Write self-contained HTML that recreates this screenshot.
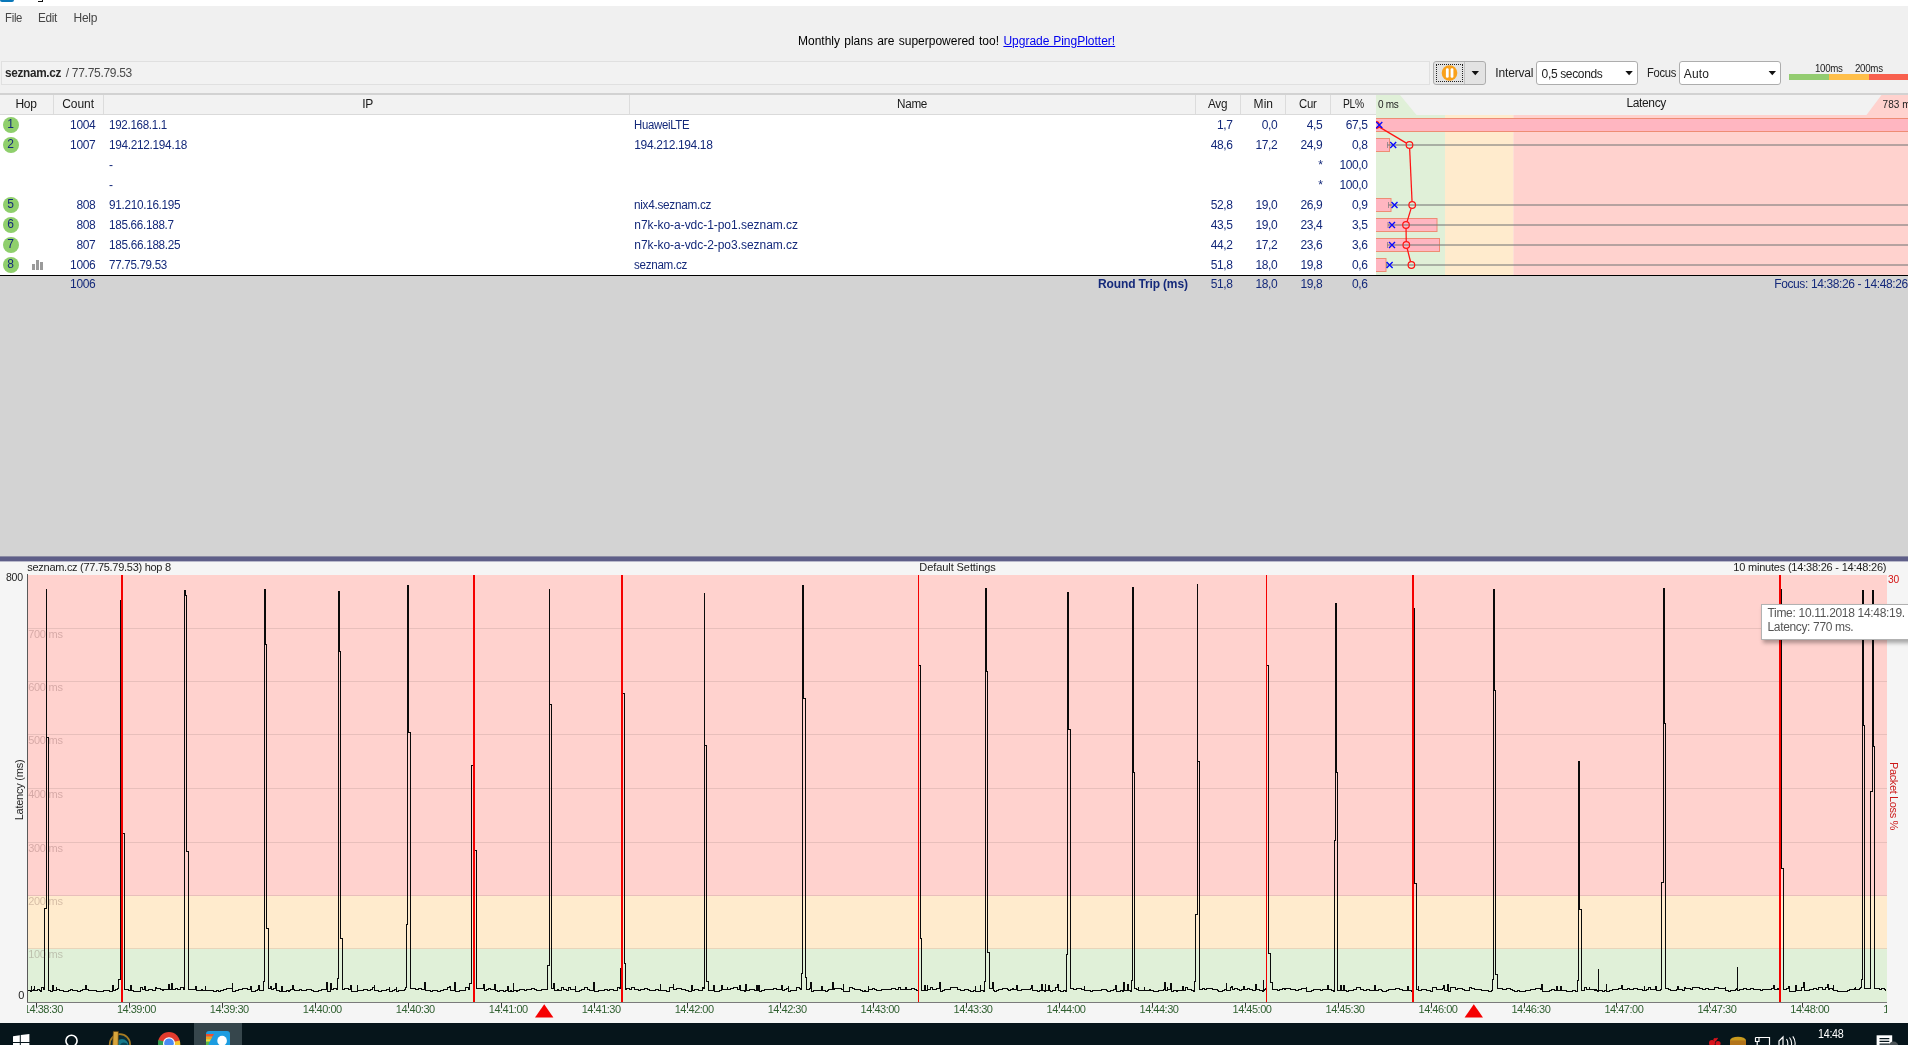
<!DOCTYPE html>
<html><head><meta charset="utf-8"><title>PingPlotter</title>
<style>
*{box-sizing:border-box;margin:0;padding:0}
html,body{width:1908px;height:1045px;overflow:hidden;background:#f0f0f0;}
body{position:relative;font-family:"Liberation Sans",sans-serif;font-size:12px;color:#1a1a1a;}
.a{position:absolute;white-space:nowrap;line-height:14px;}
#root{position:absolute;left:0;top:0;width:1908px;height:1045px;overflow:hidden;will-change:transform;}
.nv{color:#14297a;}
.r{text-align:right;}
.c{text-align:center;}
.hd{color:#1a1a1a;}
svg{position:absolute;left:0;top:0;overflow:visible}
</style></head>
<body>
<div id="root">
<div class="a" style="left:0px;top:0px;width:1908px;height:6px;background:#ffffff;"></div>
<div class="a" style="left:0px;top:0px;width:14px;height:2px;background:#0a78b9;border-radius:0 0 3px 3px;"></div>
<div class="a" style="left:38px;top:1px;width:5px;height:1px;background:#111;"></div>
<div class="a" style="left:42px;top:0px;width:1.3px;height:1px;background:#111;"></div>
<div class="a" style="left:4.60px;top:11px;font-size:12px;letter-spacing:-0.300px;color:#464646;transform:scaleX(0.9446);transform-origin:0 50%;">File</div>
<div class="a" style="left:37.60px;top:11px;font-size:12px;letter-spacing:-0.300px;color:#464646;transform:scaleX(0.9798);transform-origin:0 50%;">Edit</div>
<div class="a" style="left:73.60px;top:11px;font-size:12px;letter-spacing:-0.320px;color:#464646;">Help</div>
<div class="a" style="left:798.00px;top:34px;font-size:12px;word-spacing:0.885px;color:#000;">Monthly plans are superpowered too!</div>
<div class="a" style="left:1003.40px;top:34px;font-size:12px;word-spacing:0.380px;color:#0000ee;text-decoration:underline;">Upgrade PingPlotter!</div>
<div class="a" style="left:1px;top:61px;width:1429px;height:24px;border:1px solid #e0e0e0;background:#f2f2f2;"></div>
<div class="a" style="left:5.30px;top:66px;font-size:12px;letter-spacing:-0.300px;color:#262626;font-weight:bold;transform:scaleX(0.9799);transform-origin:0 50%;">seznam.cz</div>
<div class="a" style="left:65.80px;top:66px;font-size:12px;letter-spacing:-0.298px;color:#4a4a4a;">/ 77.75.79.53</div>
<div class="a" style="left:1433px;top:61px;width:53px;height:24px;border:1px solid #adadad;border-radius:3px;background:#e3e3e3;"></div>
<div class="a" style="left:1464px;top:62px;width:1px;height:22px;background:#c4c4c4;"></div>
<div class="a" style="left:1436px;top:64px;width:27px;height:18px;border:1px dotted #222;"></div>
<div class="a" style="left:1495.30px;top:66px;font-size:12px;letter-spacing:-0.166px;color:#222;">Interval</div>
<div class="a" style="left:1536px;top:61px;width:102px;height:24px;border:1px solid #adadad;border-radius:3px;background:#fff;"></div>
<div class="a" style="left:1541.60px;top:67px;font-size:12px;letter-spacing:-0.354px;color:#222;">0,5 seconds</div>
<div class="a" style="left:1646.60px;top:66px;font-size:12px;letter-spacing:-0.300px;color:#222;transform:scaleX(0.9333);transform-origin:0 50%;">Focus</div>
<div class="a" style="left:1679px;top:61px;width:102px;height:24px;border:1px solid #adadad;border-radius:3px;background:#fff;"></div>
<div class="a" style="left:1683.80px;top:67px;font-size:12px;letter-spacing:0.113px;color:#222;">Auto</div>
<svg width="1908" height="120"><circle cx="1449.5" cy="73" r="7.8" fill="#f9a11b"/><rect x="1445.9" y="68.2" width="2.8" height="9.5" rx="1.2" fill="#fff"/><rect x="1450.6" y="68.2" width="2.8" height="9.5" rx="1.2" fill="#fff"/><path d="M1471.6 71 L1479 71 L1475.3 75.3 Z" fill="#111"/><path d="M1625.4 71 L1632.8 71 L1629.1 75.3 Z" fill="#111"/><path d="M1768.6 71 L1776 71 L1772.3 75.3 Z" fill="#111"/></svg>
<div class="a" style="left:1789px;top:74px;width:40px;height:6px;background:#93cc70;"></div>
<div class="a" style="left:1829px;top:74px;width:40px;height:6px;background:#ffbf4a;"></div>
<div class="a" style="left:1869px;top:74px;width:39px;height:6px;background:#f8604e;"></div>
<div class="a" style="left:1815.40px;top:61.5px;font-size:10px;letter-spacing:-0.300px;color:#222;transform:scaleX(0.9687);transform-origin:0 50%;">100ms</div>
<div class="a" style="left:1855.20px;top:61.5px;font-size:10px;letter-spacing:-0.300px;color:#222;transform:scaleX(0.9722);transform-origin:0 50%;">200ms</div>
<div class="a" style="left:0px;top:93px;width:1908px;height:2px;background:#d2d2d2;"></div>
<div class="a" style="left:0px;top:95px;width:1376px;height:19px;background:#f2f2f2;"></div>
<div class="a" style="left:0px;top:114px;width:1376px;height:1px;background:#dadada;"></div>
<div class="a" style="left:53px;top:95px;width:1px;height:19px;background:#dcdcdc;"></div>
<div class="a" style="left:103px;top:95px;width:1px;height:19px;background:#dcdcdc;"></div>
<div class="a" style="left:629px;top:95px;width:1px;height:19px;background:#dcdcdc;"></div>
<div class="a" style="left:1195px;top:95px;width:1px;height:19px;background:#dcdcdc;"></div>
<div class="a" style="left:1240px;top:95px;width:1px;height:19px;background:#dcdcdc;"></div>
<div class="a" style="left:1285px;top:95px;width:1px;height:19px;background:#dcdcdc;"></div>
<div class="a" style="left:1330px;top:95px;width:1px;height:19px;background:#dcdcdc;"></div>
<div class="a" style="left:15.50px;top:97px;font-size:12px;letter-spacing:-0.310px;color:#1a1a1a;">Hop</div>
<div class="a" style="left:62.20px;top:97px;font-size:12px;letter-spacing:-0.060px;color:#1a1a1a;">Count</div>
<div class="a" style="left:362.30px;top:97px;font-size:12px;letter-spacing:-0.300px;color:#1a1a1a;">IP</div>
<div class="a" style="left:896.80px;top:97px;font-size:12px;letter-spacing:-0.300px;color:#1a1a1a;transform:scaleX(0.9762);transform-origin:0 50%;">Name</div>
<div class="a" style="left:1208.30px;top:97px;font-size:12px;letter-spacing:-0.300px;color:#1a1a1a;transform:scaleX(0.9768);transform-origin:0 50%;">Avg</div>
<div class="a" style="left:1253.60px;top:97px;font-size:12px;letter-spacing:0.040px;color:#1a1a1a;">Min</div>
<div class="a" style="left:1299.30px;top:97px;font-size:12px;letter-spacing:-0.300px;color:#1a1a1a;transform:scaleX(0.9455);transform-origin:0 50%;">Cur</div>
<div class="a" style="left:1342.60px;top:97px;font-size:12px;letter-spacing:-0.300px;color:#1a1a1a;transform:scaleX(0.8576);transform-origin:0 50%;">PL%</div>
<div class="a" style="left:0px;top:115px;width:1376px;height:160px;background:#ffffff;"></div>
<div class="a" style="left:3px;top:117px;width:16px;height:16px;border-radius:8px;background:#8fcf6c;"></div>
<div class="a" style="left:7.37px;top:117px;font-size:12px;letter-spacing:0.000px;color:#14297a;">1</div>
<div class="a" style="left:70.08px;top:118px;font-size:12px;letter-spacing:-0.360px;color:#14297a;">1004</div>
<div class="a" style="left:108.50px;top:118px;font-size:12px;letter-spacing:-0.300px;color:#14297a;transform:scaleX(0.9649);transform-origin:0 50%;">192.168.1.1</div>
<div class="a" style="left:634.30px;top:118px;font-size:12px;letter-spacing:-0.300px;color:#14297a;transform:scaleX(0.9465);transform-origin:0 50%;">HuaweiLTE</div>
<div class="a" style="left:1216.94px;top:118px;font-size:12px;letter-spacing:-0.360px;color:#14297a;">1,7</div>
<div class="a" style="left:1261.74px;top:118px;font-size:12px;letter-spacing:-0.360px;color:#14297a;">0,0</div>
<div class="a" style="left:1306.74px;top:118px;font-size:12px;letter-spacing:-0.360px;color:#14297a;">4,5</div>
<div class="a" style="left:1345.74px;top:118px;font-size:12px;letter-spacing:-0.360px;color:#14297a;">67,5</div>
<div class="a" style="left:3px;top:137px;width:16px;height:16px;border-radius:8px;background:#8fcf6c;"></div>
<div class="a" style="left:7.37px;top:137px;font-size:12px;letter-spacing:0.000px;color:#14297a;">2</div>
<div class="a" style="left:70.08px;top:138px;font-size:12px;letter-spacing:-0.360px;color:#14297a;">1007</div>
<div class="a" style="left:108.50px;top:138px;font-size:12px;letter-spacing:-0.300px;color:#14297a;transform:scaleX(0.9836);transform-origin:0 50%;">194.212.194.18</div>
<div class="a" style="left:634.30px;top:138px;font-size:12px;letter-spacing:-0.377px;color:#14297a;">194.212.194.18</div>
<div class="a" style="left:1210.64px;top:138px;font-size:12px;letter-spacing:-0.360px;color:#14297a;">48,6</div>
<div class="a" style="left:1255.44px;top:138px;font-size:12px;letter-spacing:-0.360px;color:#14297a;">17,2</div>
<div class="a" style="left:1300.44px;top:138px;font-size:12px;letter-spacing:-0.360px;color:#14297a;">24,9</div>
<div class="a" style="left:1352.04px;top:138px;font-size:12px;letter-spacing:-0.360px;color:#14297a;">0,8</div>
<div class="a" style="left:109.00px;top:158px;font-size:12px;letter-spacing:-0.820px;color:#14297a;">-</div>
<div class="a" style="left:1318.22px;top:157.7px;font-size:12px;letter-spacing:0.000px;color:#14297a;">*</div>
<div class="a" style="left:1339.38px;top:158px;font-size:12px;letter-spacing:-0.360px;color:#14297a;">100,0</div>
<div class="a" style="left:109.00px;top:178px;font-size:12px;letter-spacing:-0.820px;color:#14297a;">-</div>
<div class="a" style="left:1318.22px;top:177.7px;font-size:12px;letter-spacing:0.000px;color:#14297a;">*</div>
<div class="a" style="left:1339.38px;top:178px;font-size:12px;letter-spacing:-0.360px;color:#14297a;">100,0</div>
<div class="a" style="left:3px;top:197px;width:16px;height:16px;border-radius:8px;background:#8fcf6c;"></div>
<div class="a" style="left:7.37px;top:197px;font-size:12px;letter-spacing:0.000px;color:#14297a;">5</div>
<div class="a" style="left:76.38px;top:198px;font-size:12px;letter-spacing:-0.360px;color:#14297a;">808</div>
<div class="a" style="left:108.50px;top:198px;font-size:12px;letter-spacing:-0.300px;color:#14297a;transform:scaleX(0.9789);transform-origin:0 50%;">91.210.16.195</div>
<div class="a" style="left:634.30px;top:198px;font-size:12px;letter-spacing:-0.300px;color:#14297a;transform:scaleX(0.9825);transform-origin:0 50%;">nix4.seznam.cz</div>
<div class="a" style="left:1210.64px;top:198px;font-size:12px;letter-spacing:-0.360px;color:#14297a;">52,8</div>
<div class="a" style="left:1255.44px;top:198px;font-size:12px;letter-spacing:-0.360px;color:#14297a;">19,0</div>
<div class="a" style="left:1300.44px;top:198px;font-size:12px;letter-spacing:-0.360px;color:#14297a;">26,9</div>
<div class="a" style="left:1352.04px;top:198px;font-size:12px;letter-spacing:-0.360px;color:#14297a;">0,9</div>
<div class="a" style="left:3px;top:217px;width:16px;height:16px;border-radius:8px;background:#8fcf6c;"></div>
<div class="a" style="left:7.37px;top:217px;font-size:12px;letter-spacing:0.000px;color:#14297a;">6</div>
<div class="a" style="left:76.38px;top:218px;font-size:12px;letter-spacing:-0.360px;color:#14297a;">808</div>
<div class="a" style="left:108.50px;top:218px;font-size:12px;letter-spacing:-0.300px;color:#14297a;transform:scaleX(0.9748);transform-origin:0 50%;">185.66.188.7</div>
<div class="a" style="left:634.30px;top:218px;font-size:12px;letter-spacing:-0.039px;color:#14297a;">n7k-ko-a-vdc-1-po1.seznam.cz</div>
<div class="a" style="left:1210.64px;top:218px;font-size:12px;letter-spacing:-0.360px;color:#14297a;">43,5</div>
<div class="a" style="left:1255.44px;top:218px;font-size:12px;letter-spacing:-0.360px;color:#14297a;">19,0</div>
<div class="a" style="left:1300.44px;top:218px;font-size:12px;letter-spacing:-0.360px;color:#14297a;">23,4</div>
<div class="a" style="left:1352.04px;top:218px;font-size:12px;letter-spacing:-0.360px;color:#14297a;">3,5</div>
<div class="a" style="left:3px;top:237px;width:16px;height:16px;border-radius:8px;background:#8fcf6c;"></div>
<div class="a" style="left:7.37px;top:237px;font-size:12px;letter-spacing:0.000px;color:#14297a;">7</div>
<div class="a" style="left:76.38px;top:238px;font-size:12px;letter-spacing:-0.360px;color:#14297a;">807</div>
<div class="a" style="left:108.50px;top:238px;font-size:12px;letter-spacing:-0.300px;color:#14297a;transform:scaleX(0.9789);transform-origin:0 50%;">185.66.188.25</div>
<div class="a" style="left:634.30px;top:238px;font-size:12px;letter-spacing:-0.039px;color:#14297a;">n7k-ko-a-vdc-2-po3.seznam.cz</div>
<div class="a" style="left:1210.64px;top:238px;font-size:12px;letter-spacing:-0.360px;color:#14297a;">44,2</div>
<div class="a" style="left:1255.44px;top:238px;font-size:12px;letter-spacing:-0.360px;color:#14297a;">17,2</div>
<div class="a" style="left:1300.44px;top:238px;font-size:12px;letter-spacing:-0.360px;color:#14297a;">23,6</div>
<div class="a" style="left:1352.04px;top:238px;font-size:12px;letter-spacing:-0.360px;color:#14297a;">3,6</div>
<div class="a" style="left:3px;top:257px;width:16px;height:16px;border-radius:8px;background:#8fcf6c;"></div>
<div class="a" style="left:7.37px;top:257px;font-size:12px;letter-spacing:0.000px;color:#14297a;">8</div>
<div class="a" style="left:70.08px;top:258px;font-size:12px;letter-spacing:-0.360px;color:#14297a;">1006</div>
<div class="a" style="left:108.50px;top:258px;font-size:12px;letter-spacing:-0.300px;color:#14297a;transform:scaleX(0.9649);transform-origin:0 50%;">77.75.79.53</div>
<div class="a" style="left:634.30px;top:258px;font-size:12px;letter-spacing:-0.300px;color:#14297a;transform:scaleX(0.9698);transform-origin:0 50%;">seznam.cz</div>
<div class="a" style="left:1210.64px;top:258px;font-size:12px;letter-spacing:-0.360px;color:#14297a;">51,8</div>
<div class="a" style="left:1255.44px;top:258px;font-size:12px;letter-spacing:-0.360px;color:#14297a;">18,0</div>
<div class="a" style="left:1300.44px;top:258px;font-size:12px;letter-spacing:-0.360px;color:#14297a;">19,8</div>
<div class="a" style="left:1352.04px;top:258px;font-size:12px;letter-spacing:-0.360px;color:#14297a;">0,6</div>
<svg width="60" height="280"><rect x="32" y="264" width="3" height="6" fill="#9a9a9a"/><rect x="36" y="260" width="3" height="10" fill="#9a9a9a"/><rect x="40" y="262" width="3" height="8" fill="#9a9a9a"/></svg>
<div class="a" style="left:0px;top:275px;width:1908px;height:1px;background:#000000;"></div>
<div class="a" style="left:0px;top:276px;width:1908px;height:281px;background:#d3d3d3;"></div>
<div class="a" style="left:70.08px;top:277px;font-size:12px;letter-spacing:-0.360px;color:#14297a;">1006</div>
<div class="a" style="left:1098.10px;top:277px;font-size:12px;letter-spacing:-0.156px;color:#14297a;font-weight:bold;">Round Trip (ms)</div>
<div class="a" style="left:1210.64px;top:277px;font-size:12px;letter-spacing:-0.360px;color:#14297a;">51,8</div>
<div class="a" style="left:1255.44px;top:277px;font-size:12px;letter-spacing:-0.360px;color:#14297a;">18,0</div>
<div class="a" style="left:1300.44px;top:277px;font-size:12px;letter-spacing:-0.360px;color:#14297a;">19,8</div>
<div class="a" style="left:1352.04px;top:277px;font-size:12px;letter-spacing:-0.360px;color:#14297a;">0,6</div>
<div class="a" style="left:1774.20px;top:277px;font-size:12px;letter-spacing:-0.378px;color:#14297a;">Focus: 14:38:26 - 14:48:26</div>
<svg width="1908" height="280"><rect x="1376" y="95" width="532" height="20" fill="#f2f2f2"/><path d="M1376 95 L1400 95 L1416.5 115 L1376 115 Z" fill="#e0f0d8"/><path d="M1881.5 95 L1908 95 L1908 115 L1866.5 115 Z" fill="#ffd2ce"/><rect x="1376" y="115" width="69" height="160" fill="#e0f0d8"/><rect x="1445" y="115" width="68.5" height="160" fill="#ffebcd"/><rect x="1513.5" y="115" width="394.5" height="160" fill="#ffd2ce"/><rect x="1375" y="118.5" width="534.5" height="13" fill="#ffb6c1" stroke="#ee8c74" stroke-width="1"/><rect x="1375" y="138.5" width="14.5" height="13" fill="#ffb6c1" stroke="#ee8c74" stroke-width="1"/><rect x="1375" y="198.5" width="16.0" height="13" fill="#ffb6c1" stroke="#ee8c74" stroke-width="1"/><rect x="1375" y="218.5" width="62.0" height="13" fill="#ffb6c1" stroke="#ee8c74" stroke-width="1"/><rect x="1375" y="238.5" width="64.5" height="13" fill="#ffb6c1" stroke="#ee8c74" stroke-width="1"/><rect x="1375" y="258.5" width="11.0" height="13" fill="#ffb6c1" stroke="#ee8c74" stroke-width="1"/><rect x="1373" y="115" width="3" height="159" fill="#fff"/><rect x="1387.5" y="144" width="520.5" height="2" fill="#7a7a7a" fill-opacity="0.55"/><rect x="1387.0" y="142" width="1" height="6" fill="#7a7a7a" fill-opacity="0.7"/><rect x="1388.5" y="204" width="519.5" height="2" fill="#7a7a7a" fill-opacity="0.55"/><rect x="1388.0" y="202" width="1" height="6" fill="#7a7a7a" fill-opacity="0.7"/><rect x="1388" y="224" width="520" height="2" fill="#7a7a7a" fill-opacity="0.55"/><rect x="1387.5" y="222" width="1" height="6" fill="#7a7a7a" fill-opacity="0.7"/><rect x="1387.5" y="244" width="520.5" height="2" fill="#7a7a7a" fill-opacity="0.55"/><rect x="1387.0" y="242" width="1" height="6" fill="#7a7a7a" fill-opacity="0.7"/><rect x="1386.5" y="264" width="521.5" height="2" fill="#7a7a7a" fill-opacity="0.55"/><rect x="1386.0" y="262" width="1" height="6" fill="#7a7a7a" fill-opacity="0.7"/><line x1="1379.09" y1="126.85" x2="1406.41" y2="143.15" stroke="#ff1414" stroke-width="1.25"/><line x1="1409.66" y1="148.60" x2="1412.04" y2="201.40" stroke="#ff1414" stroke-width="1.25"/><line x1="1411.13" y1="208.44" x2="1407.07" y2="221.56" stroke="#ff1414" stroke-width="1.25"/><line x1="1406.05" y1="228.60" x2="1406.25" y2="241.40" stroke="#ff1414" stroke-width="1.25"/><line x1="1407.19" y1="248.49" x2="1410.51" y2="261.51" stroke="#ff1414" stroke-width="1.25"/><circle cx="1376" cy="125" r="3.3" fill="none" stroke="#ff1414" stroke-width="1.2"/><circle cx="1409.5" cy="145" r="3.3" fill="none" stroke="#ff1414" stroke-width="1.2"/><circle cx="1412.2" cy="205" r="3.3" fill="none" stroke="#ff1414" stroke-width="1.2"/><circle cx="1406" cy="225" r="3.3" fill="none" stroke="#ff1414" stroke-width="1.2"/><circle cx="1406.3" cy="245" r="3.3" fill="none" stroke="#ff1414" stroke-width="1.2"/><circle cx="1411.4" cy="265" r="3.3" fill="none" stroke="#ff1414" stroke-width="1.2"/><rect x="1370" y="115" width="6" height="159" fill="#fff"/><path d="M1376.3 122.1 L1382.3 127.9 M1376.3 127.9 L1382.3 122.1" stroke="#0808ff" stroke-width="1.35" fill="none"/><path d="M1390.2 142.1 L1396.2 147.9 M1390.2 147.9 L1396.2 142.1" stroke="#0808ff" stroke-width="1.35" fill="none"/><path d="M1391.5 202.1 L1397.5 207.9 M1391.5 207.9 L1397.5 202.1" stroke="#0808ff" stroke-width="1.35" fill="none"/><path d="M1389 222.1 L1395 227.9 M1389 227.9 L1395 222.1" stroke="#0808ff" stroke-width="1.35" fill="none"/><path d="M1389 242.1 L1395 247.9 M1389 247.9 L1395 242.1" stroke="#0808ff" stroke-width="1.35" fill="none"/><path d="M1386.6 262.1 L1392.6 267.9 M1386.6 267.9 L1392.6 262.1" stroke="#0808ff" stroke-width="1.35" fill="none"/></svg>
<div class="a" style="left:1377.90px;top:98px;font-size:10px;letter-spacing:-0.250px;color:#222;">0 ms</div>
<div class="a" style="left:1882.60px;top:98px;font-size:10px;letter-spacing:0.020px;color:#222;">783 ms</div>
<div class="a" style="left:1626.50px;top:95.5px;font-size:12px;letter-spacing:-0.377px;color:#1a1a1a;">Latency</div>
<div class="a" style="left:0px;top:561px;width:1908px;height:462px;background:#f5f5f5;"></div>
<div class="a" style="left:0px;top:556px;width:1908px;height:1px;background:#8c8ca4;"></div>
<div class="a" style="left:0px;top:557px;width:1908px;height:4px;background:#5e5e88;"></div>
<div class="a" style="left:0px;top:561px;width:1908px;height:1px;background:#b9b9cb;"></div>
<svg width="1908" height="1045"><rect x="27" y="575" width="1860" height="321" fill="#ffd2ce"/><rect x="27" y="896" width="1860" height="53" fill="#ffebcd"/><rect x="27" y="949" width="1860" height="53" fill="#e0f0d8"/><rect x="27" y="628" width="1860" height="1" fill="#000" fill-opacity="0.09"/><rect x="27" y="681" width="1860" height="1" fill="#000" fill-opacity="0.09"/><rect x="27" y="734" width="1860" height="1" fill="#000" fill-opacity="0.09"/><rect x="27" y="788" width="1860" height="1" fill="#000" fill-opacity="0.09"/><rect x="27" y="842" width="1860" height="1" fill="#000" fill-opacity="0.09"/><rect x="27" y="895" width="1860" height="1" fill="#000" fill-opacity="0.09"/><rect x="27" y="948" width="1860" height="1" fill="#000" fill-opacity="0.09"/><path d="M27.5 990.5 L30.5 990.5 L30.5 991.5 L31.5 991.5 L31.5 985.5 L31.5 985.5 L31.5 990.5 L32.5 990.5 L33.5 990.5 L33.5 989.5 L34.5 989.5 L34.5 985.5 L34.5 985.5 L34.5 990.5 L35.5 990.5 L37.5 990.5 L37.5 989.5 L39.5 989.5 L39.5 990.5 L40.5 990.5 L40.5 991.5 L41.5 991.5 L41.5 987.5 L43.5 987.5 L43.5 989.5 L44.5 989.5 L44.5 908.5 L46.5 908.5 L46.5 588.5 L46.5 588.5 L46.5 737.5 L48.5 737.5 L48.5 990.5 L50.5 990.5 L50.5 991.5 L52.5 991.5 L52.5 985.5 L53.5 985.5 L53.5 990.5 L53.5 990.5 L56.5 990.5 L56.5 986.5 L56.5 986.5 L56.5 989.5 L57.5 989.5 L59.5 989.5 L59.5 990.5 L63.5 990.5 L63.5 991.5 L68.5 991.5 L68.5 990.5 L70.5 990.5 L70.5 989.5 L72.5 989.5 L72.5 990.5 L77.5 990.5 L77.5 991.5 L80.5 991.5 L80.5 990.5 L82.5 990.5 L82.5 989.5 L85.5 989.5 L85.5 985.5 L86.5 985.5 L86.5 989.5 L86.5 989.5 L88.5 989.5 L88.5 990.5 L91.5 990.5 L91.5 990.5 L96.5 990.5 L96.5 991.5 L98.5 991.5 L98.5 991.5 L103.5 991.5 L103.5 990.5 L104.5 990.5 L104.5 990.5 L109.5 990.5 L109.5 991.5 L112.5 991.5 L112.5 985.5 L113.5 985.5 L113.5 990.5 L113.5 990.5 L115.5 990.5 L115.5 989.5 L117.5 989.5 L117.5 988.5 L118.5 988.5 L118.5 979.5 L120.5 979.5 L120.5 600.5 L122.5 600.5 L122.5 833.5 L124.5 833.5 L124.5 989.5 L128.5 989.5 L128.5 990.5 L130.5 990.5 L130.5 985.5 L131.5 985.5 L131.5 990.5 L131.5 990.5 L133.5 990.5 L133.5 991.5 L136.5 991.5 L136.5 991.5 L140.5 991.5 L140.5 987.5 L142.5 987.5 L142.5 989.5 L144.5 989.5 L144.5 986.5 L145.5 986.5 L145.5 990.5 L145.5 990.5 L148.5 990.5 L148.5 989.5 L152.5 989.5 L152.5 990.5 L155.5 990.5 L155.5 987.5 L156.5 987.5 L156.5 988.5 L160.5 988.5 L160.5 989.5 L162.5 989.5 L162.5 990.5 L163.5 990.5 L163.5 989.5 L168.5 989.5 L168.5 984.5 L169.5 984.5 L169.5 989.5 L169.5 989.5 L171.5 989.5 L171.5 983.5 L172.5 983.5 L172.5 989.5 L172.5 989.5 L175.5 989.5 L175.5 988.5 L177.5 988.5 L177.5 989.5 L180.5 989.5 L180.5 987.5 L183.5 987.5 L183.5 989.5 L184.5 989.5 L184.5 590.5 L185.5 590.5 L185.5 595.5 L186.5 595.5 L186.5 851.5 L188.5 851.5 L188.5 989.5 L193.5 989.5 L193.5 989.5 L195.5 989.5 L195.5 986.5 L196.5 986.5 L196.5 990.5 L196.5 990.5 L201.5 990.5 L201.5 989.5 L202.5 989.5 L202.5 990.5 L205.5 990.5 L205.5 985.5 L205.5 985.5 L205.5 990.5 L206.5 990.5 L208.5 990.5 L208.5 990.5 L211.5 990.5 L211.5 990.5 L213.5 990.5 L213.5 991.5 L216.5 991.5 L216.5 990.5 L218.5 990.5 L218.5 991.5 L220.5 991.5 L220.5 990.5 L223.5 990.5 L223.5 989.5 L226.5 989.5 L226.5 988.5 L229.5 988.5 L229.5 988.5 L232.5 988.5 L232.5 982.5 L232.5 982.5 L232.5 991.5 L233.5 991.5 L235.5 991.5 L235.5 990.5 L236.5 990.5 L236.5 990.5 L238.5 990.5 L238.5 989.5 L242.5 989.5 L242.5 988.5 L247.5 988.5 L247.5 989.5 L250.5 989.5 L250.5 986.5 L251.5 986.5 L251.5 991.5 L251.5 991.5 L255.5 991.5 L255.5 990.5 L257.5 990.5 L257.5 989.5 L258.5 989.5 L258.5 985.5 L259.5 985.5 L259.5 990.5 L259.5 990.5 L262.5 990.5 L262.5 990.5 L263.5 990.5 L263.5 981.5 L264.5 981.5 L264.5 589.5 L265.5 589.5 L265.5 644.5 L266.5 644.5 L266.5 928.5 L268.5 928.5 L268.5 988.5 L270.5 988.5 L270.5 986.5 L271.5 986.5 L271.5 989.5 L271.5 989.5 L273.5 989.5 L273.5 988.5 L275.5 988.5 L275.5 983.5 L276.5 983.5 L276.5 990.5 L276.5 990.5 L279.5 990.5 L279.5 991.5 L281.5 991.5 L281.5 986.5 L282.5 986.5 L282.5 991.5 L282.5 991.5 L286.5 991.5 L286.5 990.5 L288.5 990.5 L288.5 991.5 L289.5 991.5 L289.5 990.5 L290.5 990.5 L290.5 989.5 L292.5 989.5 L292.5 985.5 L293.5 985.5 L293.5 989.5 L293.5 989.5 L294.5 989.5 L294.5 990.5 L299.5 990.5 L299.5 989.5 L300.5 989.5 L300.5 989.5 L301.5 989.5 L301.5 990.5 L306.5 990.5 L306.5 989.5 L311.5 989.5 L311.5 990.5 L313.5 990.5 L313.5 991.5 L318.5 991.5 L318.5 990.5 L321.5 990.5 L321.5 989.5 L326.5 989.5 L326.5 982.5 L327.5 982.5 L327.5 991.5 L327.5 991.5 L330.5 991.5 L330.5 983.5 L331.5 983.5 L331.5 989.5 L331.5 989.5 L333.5 989.5 L333.5 988.5 L335.5 988.5 L335.5 988.5 L336.5 988.5 L336.5 989.5 L337.5 989.5 L337.5 978.5 L338.5 978.5 L338.5 591.5 L339.5 591.5 L339.5 651.5 L340.5 651.5 L340.5 938.5 L342.5 938.5 L342.5 989.5 L344.5 989.5 L344.5 988.5 L348.5 988.5 L348.5 989.5 L350.5 989.5 L350.5 985.5 L351.5 985.5 L351.5 991.5 L351.5 991.5 L354.5 991.5 L354.5 991.5 L357.5 991.5 L357.5 984.5 L357.5 984.5 L357.5 990.5 L358.5 990.5 L363.5 990.5 L363.5 989.5 L367.5 989.5 L367.5 990.5 L370.5 990.5 L370.5 989.5 L372.5 989.5 L372.5 987.5 L374.5 987.5 L374.5 984.5 L374.5 984.5 L374.5 990.5 L375.5 990.5 L378.5 990.5 L378.5 991.5 L381.5 991.5 L381.5 990.5 L386.5 990.5 L386.5 989.5 L389.5 989.5 L389.5 986.5 L389.5 986.5 L389.5 991.5 L390.5 991.5 L392.5 991.5 L392.5 990.5 L394.5 990.5 L394.5 989.5 L396.5 989.5 L396.5 986.5 L396.5 986.5 L396.5 991.5 L397.5 991.5 L398.5 991.5 L398.5 990.5 L402.5 990.5 L402.5 990.5 L404.5 990.5 L404.5 989.5 L405.5 989.5 L405.5 987.5 L406.5 987.5 L406.5 924.5 L407.5 924.5 L407.5 585.5 L408.5 585.5 L408.5 732.5 L410.5 732.5 L410.5 988.5 L412.5 988.5 L412.5 988.5 L415.5 988.5 L415.5 989.5 L418.5 989.5 L418.5 988.5 L421.5 988.5 L421.5 989.5 L424.5 989.5 L424.5 982.5 L425.5 982.5 L425.5 990.5 L425.5 990.5 L430.5 990.5 L430.5 991.5 L432.5 991.5 L432.5 990.5 L437.5 990.5 L437.5 991.5 L440.5 991.5 L440.5 990.5 L443.5 990.5 L443.5 989.5 L447.5 989.5 L447.5 987.5 L449.5 987.5 L449.5 986.5 L450.5 986.5 L450.5 990.5 L450.5 990.5 L454.5 990.5 L454.5 982.5 L455.5 982.5 L455.5 991.5 L455.5 991.5 L458.5 991.5 L458.5 991.5 L459.5 991.5 L459.5 990.5 L462.5 990.5 L462.5 990.5 L465.5 990.5 L465.5 987.5 L468.5 987.5 L468.5 989.5 L469.5 989.5 L469.5 983.5 L471.5 983.5 L471.5 765.5 L474.5 765.5 L474.5 850.5 L476.5 850.5 L476.5 988.5 L479.5 988.5 L479.5 988.5 L483.5 988.5 L483.5 984.5 L484.5 984.5 L484.5 990.5 L484.5 990.5 L486.5 990.5 L486.5 989.5 L488.5 989.5 L488.5 988.5 L490.5 988.5 L490.5 989.5 L494.5 989.5 L494.5 984.5 L495.5 984.5 L495.5 990.5 L495.5 990.5 L497.5 990.5 L497.5 991.5 L499.5 991.5 L499.5 990.5 L503.5 990.5 L503.5 991.5 L505.5 991.5 L505.5 990.5 L507.5 990.5 L507.5 986.5 L508.5 986.5 L508.5 991.5 L508.5 991.5 L510.5 991.5 L510.5 990.5 L511.5 990.5 L511.5 991.5 L513.5 991.5 L513.5 982.5 L513.5 982.5 L513.5 990.5 L514.5 990.5 L516.5 990.5 L516.5 991.5 L517.5 991.5 L517.5 990.5 L519.5 990.5 L519.5 989.5 L524.5 989.5 L524.5 990.5 L526.5 990.5 L526.5 989.5 L531.5 989.5 L531.5 988.5 L534.5 988.5 L534.5 989.5 L536.5 989.5 L536.5 990.5 L541.5 990.5 L541.5 989.5 L546.5 989.5 L546.5 989.5 L547.5 989.5 L547.5 965.5 L549.5 965.5 L549.5 588.5 L549.5 588.5 L549.5 704.5 L551.5 704.5 L551.5 988.5 L553.5 988.5 L553.5 983.5 L554.5 983.5 L554.5 990.5 L554.5 990.5 L557.5 990.5 L557.5 989.5 L558.5 989.5 L558.5 990.5 L561.5 990.5 L561.5 987.5 L563.5 987.5 L563.5 989.5 L566.5 989.5 L566.5 990.5 L568.5 990.5 L568.5 987.5 L570.5 987.5 L570.5 989.5 L575.5 989.5 L575.5 985.5 L575.5 985.5 L575.5 991.5 L576.5 991.5 L579.5 991.5 L579.5 990.5 L581.5 990.5 L581.5 989.5 L584.5 989.5 L584.5 987.5 L587.5 987.5 L587.5 989.5 L589.5 989.5 L589.5 990.5 L593.5 990.5 L593.5 982.5 L594.5 982.5 L594.5 991.5 L594.5 991.5 L598.5 991.5 L598.5 990.5 L602.5 990.5 L602.5 990.5 L604.5 990.5 L604.5 989.5 L607.5 989.5 L607.5 990.5 L609.5 990.5 L609.5 989.5 L610.5 989.5 L610.5 989.5 L613.5 989.5 L613.5 990.5 L617.5 990.5 L617.5 987.5 L619.5 987.5 L619.5 988.5 L620.5 988.5 L620.5 968.5 L621.5 968.5 L621.5 693.5 L624.5 693.5 L624.5 963.5 L625.5 963.5 L625.5 989.5 L626.5 989.5 L626.5 988.5 L629.5 988.5 L629.5 989.5 L631.5 989.5 L631.5 987.5 L634.5 987.5 L634.5 989.5 L638.5 989.5 L638.5 990.5 L640.5 990.5 L640.5 989.5 L644.5 989.5 L644.5 988.5 L647.5 988.5 L647.5 989.5 L649.5 989.5 L649.5 990.5 L652.5 990.5 L652.5 990.5 L655.5 990.5 L655.5 989.5 L658.5 989.5 L658.5 990.5 L660.5 990.5 L660.5 983.5 L660.5 983.5 L660.5 990.5 L661.5 990.5 L666.5 990.5 L666.5 991.5 L669.5 991.5 L669.5 987.5 L673.5 987.5 L673.5 983.5 L673.5 983.5 L673.5 989.5 L674.5 989.5 L676.5 989.5 L676.5 988.5 L679.5 988.5 L679.5 988.5 L681.5 988.5 L681.5 989.5 L685.5 989.5 L685.5 990.5 L687.5 990.5 L687.5 990.5 L688.5 990.5 L688.5 991.5 L691.5 991.5 L691.5 985.5 L692.5 985.5 L692.5 990.5 L692.5 990.5 L694.5 990.5 L694.5 989.5 L698.5 989.5 L698.5 990.5 L702.5 990.5 L702.5 987.5 L703.5 987.5 L703.5 988.5 L704.5 988.5 L704.5 592.5 L704.5 592.5 L704.5 745.5 L706.5 745.5 L706.5 981.5 L708.5 981.5 L708.5 990.5 L713.5 990.5 L713.5 985.5 L714.5 985.5 L714.5 991.5 L714.5 991.5 L719.5 991.5 L719.5 990.5 L721.5 990.5 L721.5 985.5 L722.5 985.5 L722.5 989.5 L722.5 989.5 L727.5 989.5 L727.5 986.5 L727.5 986.5 L727.5 989.5 L728.5 989.5 L730.5 989.5 L730.5 988.5 L733.5 988.5 L733.5 987.5 L737.5 987.5 L737.5 989.5 L739.5 989.5 L739.5 985.5 L740.5 985.5 L740.5 990.5 L740.5 990.5 L744.5 990.5 L744.5 991.5 L745.5 991.5 L745.5 984.5 L746.5 984.5 L746.5 990.5 L746.5 990.5 L749.5 990.5 L749.5 989.5 L754.5 989.5 L754.5 990.5 L756.5 990.5 L756.5 985.5 L757.5 985.5 L757.5 990.5 L757.5 990.5 L758.5 990.5 L758.5 985.5 L759.5 985.5 L759.5 991.5 L759.5 991.5 L761.5 991.5 L761.5 990.5 L764.5 990.5 L764.5 989.5 L767.5 989.5 L767.5 989.5 L771.5 989.5 L771.5 989.5 L773.5 989.5 L773.5 988.5 L776.5 988.5 L776.5 989.5 L778.5 989.5 L778.5 989.5 L781.5 989.5 L781.5 985.5 L782.5 985.5 L782.5 990.5 L782.5 990.5 L784.5 990.5 L784.5 989.5 L786.5 989.5 L786.5 988.5 L788.5 988.5 L788.5 985.5 L788.5 985.5 L788.5 991.5 L789.5 991.5 L790.5 991.5 L790.5 990.5 L794.5 990.5 L794.5 990.5 L796.5 990.5 L796.5 987.5 L799.5 987.5 L799.5 988.5 L800.5 988.5 L800.5 989.5 L801.5 989.5 L801.5 973.5 L802.5 973.5 L802.5 585.5 L803.5 585.5 L803.5 698.5 L805.5 698.5 L805.5 977.5 L806.5 977.5 L806.5 989.5 L809.5 989.5 L809.5 988.5 L810.5 988.5 L810.5 982.5 L811.5 982.5 L811.5 991.5 L811.5 991.5 L813.5 991.5 L813.5 990.5 L817.5 990.5 L817.5 990.5 L821.5 990.5 L821.5 986.5 L822.5 986.5 L822.5 990.5 L822.5 990.5 L825.5 990.5 L825.5 991.5 L827.5 991.5 L827.5 990.5 L828.5 990.5 L828.5 989.5 L832.5 989.5 L832.5 982.5 L833.5 982.5 L833.5 989.5 L833.5 989.5 L834.5 989.5 L834.5 988.5 L837.5 988.5 L837.5 988.5 L838.5 988.5 L838.5 988.5 L841.5 988.5 L841.5 989.5 L843.5 989.5 L843.5 983.5 L843.5 983.5 L843.5 991.5 L844.5 991.5 L849.5 991.5 L849.5 987.5 L852.5 987.5 L852.5 988.5 L854.5 988.5 L854.5 989.5 L855.5 989.5 L855.5 989.5 L857.5 989.5 L857.5 989.5 L860.5 989.5 L860.5 990.5 L862.5 990.5 L862.5 991.5 L864.5 991.5 L864.5 990.5 L865.5 990.5 L865.5 991.5 L868.5 991.5 L868.5 985.5 L868.5 985.5 L868.5 989.5 L869.5 989.5 L872.5 989.5 L872.5 988.5 L874.5 988.5 L874.5 989.5 L876.5 989.5 L876.5 990.5 L881.5 990.5 L881.5 989.5 L883.5 989.5 L883.5 989.5 L886.5 989.5 L886.5 989.5 L889.5 989.5 L889.5 989.5 L891.5 989.5 L891.5 988.5 L893.5 988.5 L893.5 988.5 L895.5 988.5 L895.5 989.5 L898.5 989.5 L898.5 987.5 L900.5 987.5 L900.5 989.5 L905.5 989.5 L905.5 987.5 L906.5 987.5 L906.5 989.5 L911.5 989.5 L911.5 988.5 L914.5 988.5 L914.5 989.5 L916.5 989.5 L916.5 990.5 L917.5 990.5 L917.5 990.5 L918.5 990.5 L918.5 665.5 L920.5 665.5 L920.5 938.5 L921.5 938.5 L921.5 990.5 L923.5 990.5 L923.5 990.5 L924.5 990.5 L924.5 985.5 L925.5 985.5 L925.5 990.5 L925.5 990.5 L927.5 990.5 L927.5 984.5 L927.5 984.5 L927.5 989.5 L928.5 989.5 L930.5 989.5 L930.5 987.5 L932.5 987.5 L932.5 989.5 L936.5 989.5 L936.5 988.5 L939.5 988.5 L939.5 982.5 L940.5 982.5 L940.5 991.5 L940.5 991.5 L942.5 991.5 L942.5 990.5 L944.5 990.5 L944.5 989.5 L946.5 989.5 L946.5 989.5 L950.5 989.5 L950.5 987.5 L954.5 987.5 L954.5 987.5 L957.5 987.5 L957.5 989.5 L960.5 989.5 L960.5 990.5 L964.5 990.5 L964.5 989.5 L968.5 989.5 L968.5 990.5 L970.5 990.5 L970.5 991.5 L973.5 991.5 L973.5 990.5 L975.5 990.5 L975.5 985.5 L975.5 985.5 L975.5 991.5 L976.5 991.5 L978.5 991.5 L978.5 991.5 L980.5 991.5 L980.5 984.5 L980.5 984.5 L980.5 990.5 L981.5 990.5 L983.5 990.5 L983.5 991.5 L984.5 991.5 L984.5 981.5 L985.5 981.5 L985.5 588.5 L986.5 588.5 L986.5 671.5 L987.5 671.5 L987.5 952.5 L989.5 952.5 L989.5 988.5 L992.5 988.5 L992.5 982.5 L993.5 982.5 L993.5 990.5 L993.5 990.5 L994.5 990.5 L994.5 991.5 L996.5 991.5 L996.5 990.5 L998.5 990.5 L998.5 989.5 L1002.5 989.5 L1002.5 988.5 L1007.5 988.5 L1007.5 989.5 L1008.5 989.5 L1008.5 990.5 L1010.5 990.5 L1010.5 989.5 L1012.5 989.5 L1012.5 988.5 L1013.5 988.5 L1013.5 989.5 L1016.5 989.5 L1016.5 985.5 L1017.5 985.5 L1017.5 990.5 L1017.5 990.5 L1021.5 990.5 L1021.5 989.5 L1025.5 989.5 L1025.5 989.5 L1030.5 989.5 L1030.5 988.5 L1031.5 988.5 L1031.5 985.5 L1032.5 985.5 L1032.5 990.5 L1032.5 990.5 L1037.5 990.5 L1037.5 991.5 L1039.5 991.5 L1039.5 990.5 L1041.5 990.5 L1041.5 984.5 L1042.5 984.5 L1042.5 990.5 L1042.5 990.5 L1044.5 990.5 L1044.5 991.5 L1045.5 991.5 L1045.5 983.5 L1045.5 983.5 L1045.5 990.5 L1046.5 990.5 L1048.5 990.5 L1048.5 985.5 L1049.5 985.5 L1049.5 990.5 L1049.5 990.5 L1050.5 990.5 L1050.5 991.5 L1052.5 991.5 L1052.5 990.5 L1055.5 990.5 L1055.5 987.5 L1057.5 987.5 L1057.5 984.5 L1058.5 984.5 L1058.5 990.5 L1058.5 990.5 L1060.5 990.5 L1060.5 991.5 L1063.5 991.5 L1063.5 990.5 L1065.5 990.5 L1065.5 991.5 L1066.5 991.5 L1066.5 954.5 L1067.5 954.5 L1067.5 592.5 L1068.5 592.5 L1068.5 729.5 L1070.5 729.5 L1070.5 988.5 L1073.5 988.5 L1073.5 989.5 L1076.5 989.5 L1076.5 988.5 L1078.5 988.5 L1078.5 988.5 L1081.5 988.5 L1081.5 989.5 L1084.5 989.5 L1084.5 985.5 L1084.5 985.5 L1084.5 990.5 L1085.5 990.5 L1090.5 990.5 L1090.5 991.5 L1092.5 991.5 L1092.5 990.5 L1096.5 990.5 L1096.5 990.5 L1099.5 990.5 L1099.5 990.5 L1101.5 990.5 L1101.5 989.5 L1106.5 989.5 L1106.5 990.5 L1107.5 990.5 L1107.5 991.5 L1110.5 991.5 L1110.5 990.5 L1113.5 990.5 L1113.5 989.5 L1115.5 989.5 L1115.5 985.5 L1116.5 985.5 L1116.5 991.5 L1116.5 991.5 L1120.5 991.5 L1120.5 990.5 L1122.5 990.5 L1122.5 991.5 L1123.5 991.5 L1123.5 982.5 L1124.5 982.5 L1124.5 990.5 L1124.5 990.5 L1127.5 990.5 L1127.5 984.5 L1128.5 984.5 L1128.5 990.5 L1128.5 990.5 L1130.5 990.5 L1130.5 991.5 L1131.5 991.5 L1131.5 980.5 L1132.5 980.5 L1132.5 587.5 L1133.5 587.5 L1133.5 772.5 L1134.5 772.5 L1134.5 988.5 L1136.5 988.5 L1136.5 989.5 L1138.5 989.5 L1138.5 986.5 L1138.5 986.5 L1138.5 990.5 L1139.5 990.5 L1144.5 990.5 L1144.5 986.5 L1144.5 986.5 L1144.5 990.5 L1145.5 990.5 L1149.5 990.5 L1149.5 989.5 L1150.5 989.5 L1150.5 990.5 L1153.5 990.5 L1153.5 991.5 L1158.5 991.5 L1158.5 990.5 L1163.5 990.5 L1163.5 989.5 L1164.5 989.5 L1164.5 982.5 L1165.5 982.5 L1165.5 990.5 L1165.5 990.5 L1167.5 990.5 L1167.5 986.5 L1167.5 986.5 L1167.5 989.5 L1168.5 989.5 L1170.5 989.5 L1170.5 983.5 L1171.5 983.5 L1171.5 991.5 L1171.5 991.5 L1173.5 991.5 L1173.5 990.5 L1176.5 990.5 L1176.5 991.5 L1177.5 991.5 L1177.5 990.5 L1182.5 990.5 L1182.5 986.5 L1183.5 986.5 L1183.5 990.5 L1183.5 990.5 L1185.5 990.5 L1185.5 987.5 L1187.5 987.5 L1187.5 989.5 L1190.5 989.5 L1190.5 989.5 L1191.5 989.5 L1191.5 990.5 L1193.5 990.5 L1193.5 991.5 L1194.5 991.5 L1194.5 981.5 L1195.5 981.5 L1195.5 914.5 L1197.5 914.5 L1197.5 583.5 L1197.5 583.5 L1197.5 761.5 L1199.5 761.5 L1199.5 989.5 L1202.5 989.5 L1202.5 988.5 L1204.5 988.5 L1204.5 989.5 L1206.5 989.5 L1206.5 988.5 L1208.5 988.5 L1208.5 988.5 L1210.5 988.5 L1210.5 988.5 L1212.5 988.5 L1212.5 989.5 L1217.5 989.5 L1217.5 990.5 L1218.5 990.5 L1218.5 991.5 L1220.5 991.5 L1220.5 991.5 L1222.5 991.5 L1222.5 990.5 L1224.5 990.5 L1224.5 989.5 L1226.5 989.5 L1226.5 982.5 L1226.5 982.5 L1226.5 990.5 L1227.5 990.5 L1230.5 990.5 L1230.5 987.5 L1231.5 987.5 L1231.5 986.5 L1232.5 986.5 L1232.5 989.5 L1232.5 989.5 L1234.5 989.5 L1234.5 988.5 L1237.5 988.5 L1237.5 989.5 L1239.5 989.5 L1239.5 990.5 L1241.5 990.5 L1241.5 989.5 L1243.5 989.5 L1243.5 986.5 L1244.5 986.5 L1244.5 989.5 L1244.5 989.5 L1247.5 989.5 L1247.5 988.5 L1249.5 988.5 L1249.5 989.5 L1252.5 989.5 L1252.5 990.5 L1255.5 990.5 L1255.5 984.5 L1256.5 984.5 L1256.5 989.5 L1256.5 989.5 L1259.5 989.5 L1259.5 990.5 L1262.5 990.5 L1262.5 991.5 L1263.5 991.5 L1263.5 979.5 L1263.5 979.5 L1263.5 990.5 L1264.5 990.5 L1264.5 989.5 L1265.5 989.5 L1265.5 988.5 L1266.5 988.5 L1266.5 665.5 L1268.5 665.5 L1268.5 953.5 L1270.5 953.5 L1270.5 982.5 L1272.5 982.5 L1272.5 989.5 L1277.5 989.5 L1277.5 990.5 L1279.5 990.5 L1279.5 989.5 L1282.5 989.5 L1282.5 988.5 L1284.5 988.5 L1284.5 989.5 L1285.5 989.5 L1285.5 988.5 L1290.5 988.5 L1290.5 989.5 L1295.5 989.5 L1295.5 990.5 L1298.5 990.5 L1298.5 989.5 L1301.5 989.5 L1301.5 988.5 L1306.5 988.5 L1306.5 986.5 L1306.5 986.5 L1306.5 991.5 L1307.5 991.5 L1309.5 991.5 L1309.5 991.5 L1311.5 991.5 L1311.5 990.5 L1313.5 990.5 L1313.5 989.5 L1316.5 989.5 L1316.5 989.5 L1320.5 989.5 L1320.5 990.5 L1322.5 990.5 L1322.5 989.5 L1327.5 989.5 L1327.5 985.5 L1328.5 985.5 L1328.5 989.5 L1328.5 989.5 L1331.5 989.5 L1331.5 990.5 L1333.5 990.5 L1333.5 991.5 L1334.5 991.5 L1334.5 840.5 L1335.5 840.5 L1335.5 603.5 L1336.5 603.5 L1336.5 772.5 L1337.5 772.5 L1337.5 990.5 L1340.5 990.5 L1340.5 985.5 L1341.5 985.5 L1341.5 990.5 L1341.5 990.5 L1343.5 990.5 L1343.5 985.5 L1344.5 985.5 L1344.5 990.5 L1344.5 990.5 L1346.5 990.5 L1346.5 991.5 L1348.5 991.5 L1348.5 990.5 L1351.5 990.5 L1351.5 990.5 L1353.5 990.5 L1353.5 989.5 L1356.5 989.5 L1356.5 987.5 L1358.5 987.5 L1358.5 987.5 L1360.5 987.5 L1360.5 989.5 L1363.5 989.5 L1363.5 990.5 L1366.5 990.5 L1366.5 989.5 L1369.5 989.5 L1369.5 990.5 L1374.5 990.5 L1374.5 985.5 L1375.5 985.5 L1375.5 990.5 L1375.5 990.5 L1378.5 990.5 L1378.5 989.5 L1381.5 989.5 L1381.5 990.5 L1382.5 990.5 L1382.5 991.5 L1386.5 991.5 L1386.5 990.5 L1388.5 990.5 L1388.5 989.5 L1393.5 989.5 L1393.5 989.5 L1395.5 989.5 L1395.5 988.5 L1399.5 988.5 L1399.5 989.5 L1402.5 989.5 L1402.5 990.5 L1407.5 990.5 L1407.5 986.5 L1408.5 986.5 L1408.5 990.5 L1408.5 990.5 L1411.5 990.5 L1411.5 991.5 L1412.5 991.5 L1412.5 608.5 L1414.5 608.5 L1414.5 883.5 L1416.5 883.5 L1416.5 989.5 L1418.5 989.5 L1418.5 985.5 L1418.5 985.5 L1418.5 990.5 L1419.5 990.5 L1421.5 990.5 L1421.5 989.5 L1426.5 989.5 L1426.5 990.5 L1427.5 990.5 L1427.5 990.5 L1430.5 990.5 L1430.5 991.5 L1432.5 991.5 L1432.5 987.5 L1436.5 987.5 L1436.5 989.5 L1439.5 989.5 L1439.5 989.5 L1442.5 989.5 L1442.5 988.5 L1443.5 988.5 L1443.5 985.5 L1444.5 985.5 L1444.5 990.5 L1444.5 990.5 L1447.5 990.5 L1447.5 984.5 L1448.5 984.5 L1448.5 991.5 L1448.5 991.5 L1450.5 991.5 L1450.5 987.5 L1455.5 987.5 L1455.5 989.5 L1457.5 989.5 L1457.5 988.5 L1462.5 988.5 L1462.5 989.5 L1464.5 989.5 L1464.5 990.5 L1469.5 990.5 L1469.5 987.5 L1471.5 987.5 L1471.5 988.5 L1474.5 988.5 L1474.5 989.5 L1477.5 989.5 L1477.5 989.5 L1481.5 989.5 L1481.5 990.5 L1482.5 990.5 L1482.5 990.5 L1485.5 990.5 L1485.5 990.5 L1488.5 990.5 L1488.5 991.5 L1490.5 991.5 L1490.5 991.5 L1491.5 991.5 L1491.5 990.5 L1492.5 990.5 L1492.5 979.5 L1493.5 979.5 L1493.5 589.5 L1494.5 589.5 L1494.5 690.5 L1495.5 690.5 L1495.5 974.5 L1497.5 974.5 L1497.5 988.5 L1499.5 988.5 L1499.5 988.5 L1501.5 988.5 L1501.5 988.5 L1502.5 988.5 L1502.5 989.5 L1504.5 989.5 L1504.5 989.5 L1506.5 989.5 L1506.5 988.5 L1508.5 988.5 L1508.5 988.5 L1510.5 988.5 L1510.5 989.5 L1512.5 989.5 L1512.5 990.5 L1514.5 990.5 L1514.5 991.5 L1517.5 991.5 L1517.5 990.5 L1519.5 990.5 L1519.5 991.5 L1521.5 991.5 L1521.5 991.5 L1525.5 991.5 L1525.5 990.5 L1530.5 990.5 L1530.5 989.5 L1535.5 989.5 L1535.5 988.5 L1540.5 988.5 L1540.5 989.5 L1541.5 989.5 L1541.5 984.5 L1542.5 984.5 L1542.5 991.5 L1542.5 991.5 L1545.5 991.5 L1545.5 991.5 L1549.5 991.5 L1549.5 990.5 L1551.5 990.5 L1551.5 989.5 L1552.5 989.5 L1552.5 989.5 L1554.5 989.5 L1554.5 990.5 L1556.5 990.5 L1556.5 986.5 L1557.5 986.5 L1557.5 990.5 L1557.5 990.5 L1560.5 990.5 L1560.5 986.5 L1561.5 986.5 L1561.5 990.5 L1561.5 990.5 L1566.5 990.5 L1566.5 991.5 L1568.5 991.5 L1568.5 991.5 L1572.5 991.5 L1572.5 990.5 L1575.5 990.5 L1575.5 991.5 L1576.5 991.5 L1576.5 991.5 L1577.5 991.5 L1577.5 980.5 L1578.5 980.5 L1578.5 761.5 L1579.5 761.5 L1579.5 909.5 L1581.5 909.5 L1581.5 990.5 L1584.5 990.5 L1584.5 987.5 L1586.5 987.5 L1586.5 989.5 L1589.5 989.5 L1589.5 986.5 L1589.5 986.5 L1589.5 989.5 L1590.5 989.5 L1594.5 989.5 L1594.5 990.5 L1595.5 990.5 L1595.5 989.5 L1596.5 989.5 L1596.5 990.5 L1597.5 990.5 L1597.5 991.5 L1598.5 991.5 L1598.5 968.5 L1598.5 968.5 L1598.5 990.5 L1602.5 990.5 L1602.5 991.5 L1604.5 991.5 L1604.5 990.5 L1606.5 990.5 L1606.5 983.5 L1606.5 983.5 L1606.5 991.5 L1607.5 991.5 L1609.5 991.5 L1609.5 990.5 L1612.5 990.5 L1612.5 989.5 L1615.5 989.5 L1615.5 989.5 L1618.5 989.5 L1618.5 988.5 L1621.5 988.5 L1621.5 985.5 L1622.5 985.5 L1622.5 989.5 L1622.5 989.5 L1627.5 989.5 L1627.5 988.5 L1629.5 988.5 L1629.5 989.5 L1633.5 989.5 L1633.5 988.5 L1637.5 988.5 L1637.5 989.5 L1642.5 989.5 L1642.5 990.5 L1644.5 990.5 L1644.5 985.5 L1644.5 985.5 L1644.5 990.5 L1645.5 990.5 L1646.5 990.5 L1646.5 989.5 L1648.5 989.5 L1648.5 987.5 L1650.5 987.5 L1650.5 989.5 L1655.5 989.5 L1655.5 986.5 L1656.5 986.5 L1656.5 990.5 L1656.5 990.5 L1660.5 990.5 L1660.5 989.5 L1661.5 989.5 L1661.5 882.5 L1663.5 882.5 L1663.5 588.5 L1664.5 588.5 L1664.5 723.5 L1665.5 723.5 L1665.5 988.5 L1668.5 988.5 L1668.5 989.5 L1670.5 989.5 L1670.5 990.5 L1675.5 990.5 L1675.5 990.5 L1676.5 990.5 L1676.5 989.5 L1677.5 989.5 L1677.5 986.5 L1678.5 986.5 L1678.5 989.5 L1678.5 989.5 L1682.5 989.5 L1682.5 990.5 L1684.5 990.5 L1684.5 987.5 L1685.5 987.5 L1685.5 988.5 L1690.5 988.5 L1690.5 989.5 L1692.5 989.5 L1692.5 987.5 L1695.5 987.5 L1695.5 987.5 L1699.5 987.5 L1699.5 988.5 L1702.5 988.5 L1702.5 989.5 L1705.5 989.5 L1705.5 988.5 L1708.5 988.5 L1708.5 989.5 L1710.5 989.5 L1710.5 989.5 L1714.5 989.5 L1714.5 987.5 L1718.5 987.5 L1718.5 988.5 L1720.5 988.5 L1720.5 988.5 L1721.5 988.5 L1721.5 988.5 L1725.5 988.5 L1725.5 986.5 L1725.5 986.5 L1725.5 990.5 L1726.5 990.5 L1728.5 990.5 L1728.5 991.5 L1730.5 991.5 L1730.5 990.5 L1735.5 990.5 L1735.5 989.5 L1736.5 989.5 L1736.5 988.5 L1737.5 988.5 L1737.5 966.5 L1737.5 966.5 L1737.5 990.5 L1739.5 990.5 L1739.5 989.5 L1743.5 989.5 L1743.5 988.5 L1746.5 988.5 L1746.5 989.5 L1750.5 989.5 L1750.5 988.5 L1753.5 988.5 L1753.5 989.5 L1757.5 989.5 L1757.5 989.5 L1760.5 989.5 L1760.5 990.5 L1762.5 990.5 L1762.5 989.5 L1764.5 989.5 L1764.5 989.5 L1767.5 989.5 L1767.5 989.5 L1771.5 989.5 L1771.5 988.5 L1773.5 988.5 L1773.5 985.5 L1774.5 985.5 L1774.5 989.5 L1774.5 989.5 L1777.5 989.5 L1777.5 988.5 L1778.5 988.5 L1778.5 989.5 L1779.5 989.5 L1779.5 589.5 L1781.5 589.5 L1781.5 868.5 L1783.5 868.5 L1783.5 989.5 L1786.5 989.5 L1786.5 988.5 L1788.5 988.5 L1788.5 986.5 L1789.5 986.5 L1789.5 991.5 L1789.5 991.5 L1791.5 991.5 L1791.5 991.5 L1795.5 991.5 L1795.5 985.5 L1796.5 985.5 L1796.5 990.5 L1796.5 990.5 L1799.5 990.5 L1799.5 990.5 L1801.5 990.5 L1801.5 987.5 L1803.5 987.5 L1803.5 982.5 L1804.5 982.5 L1804.5 990.5 L1804.5 990.5 L1809.5 990.5 L1809.5 989.5 L1813.5 989.5 L1813.5 988.5 L1816.5 988.5 L1816.5 989.5 L1818.5 989.5 L1818.5 987.5 L1822.5 987.5 L1822.5 989.5 L1825.5 989.5 L1825.5 987.5 L1827.5 987.5 L1827.5 984.5 L1828.5 984.5 L1828.5 989.5 L1828.5 989.5 L1829.5 989.5 L1829.5 988.5 L1832.5 988.5 L1832.5 989.5 L1833.5 989.5 L1833.5 984.5 L1833.5 984.5 L1833.5 990.5 L1834.5 990.5 L1837.5 990.5 L1837.5 991.5 L1839.5 991.5 L1839.5 991.5 L1842.5 991.5 L1842.5 991.5 L1847.5 991.5 L1847.5 990.5 L1849.5 990.5 L1849.5 989.5 L1854.5 989.5 L1854.5 988.5 L1855.5 988.5 L1855.5 986.5 L1855.5 986.5 L1855.5 989.5 L1856.5 989.5 L1859.5 989.5 L1859.5 988.5 L1860.5 988.5 L1860.5 987.5 L1861.5 987.5 L1861.5 979.5 L1862.5 979.5 L1862.5 590.5 L1863.5 590.5 L1863.5 725.5 L1864.5 725.5 L1864.5 988.5 L1870.5 988.5 L1870.5 791.5 L1872.5 791.5 L1872.5 590.5 L1873.5 590.5 L1873.5 746.5 L1874.5 746.5 L1874.5 988.5 L1876.5 988.5 L1876.5 988.5 L1879.5 988.5 L1879.5 989.5 L1881.5 989.5 L1881.5 988.5 L1884.5 988.5 L1884.5 989.5 L1885.5 989.5 L1885.5 990.5" fill="none" stroke="#0a0a0a" stroke-width="1" stroke-linejoin="miter" shape-rendering="crispEdges"/><rect x="121" y="575" width="2" height="427" fill="#f50000"/><rect x="473" y="575" width="2" height="427" fill="#f50000"/><rect x="621" y="575" width="2" height="427" fill="#f50000"/><rect x="918" y="575" width="1" height="427" fill="#f50000"/><rect x="1266" y="575" width="1" height="427" fill="#f50000"/><rect x="1412" y="575" width="2" height="427" fill="#f50000"/><rect x="1779" y="575" width="2" height="427" fill="#f50000"/><rect x="27" y="574" width="1" height="428" fill="#5a5a5a"/><rect x="27" y="1002" width="1860" height="1" fill="#7a7a7a"/><rect x="36" y="1003" width="1" height="4" fill="#333"/><rect x="129" y="1003" width="1" height="4" fill="#333"/><rect x="222" y="1003" width="1" height="4" fill="#333"/><rect x="315" y="1003" width="1" height="4" fill="#333"/><rect x="408" y="1003" width="1" height="4" fill="#333"/><rect x="501" y="1003" width="1" height="4" fill="#333"/><rect x="594" y="1003" width="1" height="4" fill="#333"/><rect x="687" y="1003" width="1" height="4" fill="#333"/><rect x="780" y="1003" width="1" height="4" fill="#333"/><rect x="873" y="1003" width="1" height="4" fill="#333"/><rect x="966" y="1003" width="1" height="4" fill="#333"/><rect x="1059" y="1003" width="1" height="4" fill="#333"/><rect x="1152" y="1003" width="1" height="4" fill="#333"/><rect x="1245" y="1003" width="1" height="4" fill="#333"/><rect x="1338" y="1003" width="1" height="4" fill="#333"/><rect x="1431" y="1003" width="1" height="4" fill="#333"/><rect x="1524" y="1003" width="1" height="4" fill="#333"/><rect x="1616" y="1003" width="1" height="4" fill="#333"/><rect x="1709" y="1003" width="1" height="4" fill="#333"/><rect x="1802" y="1003" width="1" height="4" fill="#333"/><path d="M544.2 1004.3 L553.4000000000001 1017.6 L535.0 1017.6 Z" fill="#f50000"/><path d="M1473.8 1004.3 L1483.0 1017.6 L1464.6 1017.6 Z" fill="#f50000"/></svg>
<div class="a" style="left:28.20px;top:627.3px;font-size:11px;letter-spacing:-0.276px;color:rgba(70,30,30,0.23);">700 ms</div>
<div class="a" style="left:28.20px;top:680.3px;font-size:11px;letter-spacing:-0.276px;color:rgba(70,30,30,0.23);">600 ms</div>
<div class="a" style="left:28.20px;top:733.3px;font-size:11px;letter-spacing:-0.276px;color:rgba(70,30,30,0.23);">500 ms</div>
<div class="a" style="left:28.20px;top:787.3px;font-size:11px;letter-spacing:-0.276px;color:rgba(70,30,30,0.23);">400 ms</div>
<div class="a" style="left:28.20px;top:841.3px;font-size:11px;letter-spacing:-0.276px;color:rgba(70,30,30,0.23);">300 ms</div>
<div class="a" style="left:28.20px;top:894.3px;font-size:11px;letter-spacing:-0.276px;color:rgba(70,30,30,0.23);">200 ms</div>
<div class="a" style="left:28.20px;top:947.3px;font-size:11px;letter-spacing:-0.276px;color:rgba(70,30,30,0.23);">100 ms</div>
<div class="a" style="left:6.40px;top:569.9px;font-size:11px;letter-spacing:-0.300px;color:#222;transform:scaleX(0.9567);transform-origin:0 50%;">800</div>
<div class="a" style="left:18.30px;top:988px;font-size:11px;letter-spacing:-1.205px;color:#222;">0</div>
<div class="a" style="left:-21px;top:782.5px;width:80px;text-align:center;transform:rotate(-90deg);font-size:11px;letter-spacing:-0.24px;color:#222;">Latency (ms)</div>
<div class="a" style="left:1888.20px;top:572px;font-size:11px;letter-spacing:-0.300px;color:#d41414;transform:scaleX(0.9320);transform-origin:0 50%;">30</div>
<div class="a" style="left:1854.2px;top:789px;width:80px;text-align:center;transform:rotate(90deg);font-size:11px;letter-spacing:-0.37px;color:#cc1818;">Packet Loss %</div>
<div class="a" style="left:27.30px;top:559.7px;font-size:11px;letter-spacing:-0.283px;color:#222;">seznam.cz (77.75.79.53) hop 8</div>
<div class="a" style="left:919.30px;top:559.7px;font-size:11px;letter-spacing:-0.077px;color:#222;">Default Settings</div>
<div class="a" style="left:1733.30px;top:559.7px;font-size:11px;letter-spacing:-0.207px;color:#222;">10 minutes (14:38:26 - 14:48:26)</div>
<div class="a" style="left:27px;top:1002px;width:1860px;height:16px;overflow:hidden;"><div class="a" style="left:-3.1px;top:0px;color:#2f5f2f;font-size:11px;letter-spacing:-0.492px;">14:38:30</div><div class="a" style="left:89.9px;top:0px;color:#2f5f2f;font-size:11px;letter-spacing:-0.492px;">14:39:00</div><div class="a" style="left:182.8px;top:0px;color:#2f5f2f;font-size:11px;letter-spacing:-0.492px;">14:39:30</div><div class="a" style="left:275.8px;top:0px;color:#2f5f2f;font-size:11px;letter-spacing:-0.492px;">14:40:00</div><div class="a" style="left:368.8px;top:0px;color:#2f5f2f;font-size:11px;letter-spacing:-0.492px;">14:40:30</div><div class="a" style="left:461.8px;top:0px;color:#2f5f2f;font-size:11px;letter-spacing:-0.492px;">14:41:00</div><div class="a" style="left:554.7px;top:0px;color:#2f5f2f;font-size:11px;letter-spacing:-0.492px;">14:41:30</div><div class="a" style="left:647.7px;top:0px;color:#2f5f2f;font-size:11px;letter-spacing:-0.492px;">14:42:00</div><div class="a" style="left:740.7px;top:0px;color:#2f5f2f;font-size:11px;letter-spacing:-0.492px;">14:42:30</div><div class="a" style="left:833.6px;top:0px;color:#2f5f2f;font-size:11px;letter-spacing:-0.492px;">14:43:00</div><div class="a" style="left:926.6px;top:0px;color:#2f5f2f;font-size:11px;letter-spacing:-0.492px;">14:43:30</div><div class="a" style="left:1019.6px;top:0px;color:#2f5f2f;font-size:11px;letter-spacing:-0.492px;">14:44:00</div><div class="a" style="left:1112.5px;top:0px;color:#2f5f2f;font-size:11px;letter-spacing:-0.492px;">14:44:30</div><div class="a" style="left:1205.5px;top:0px;color:#2f5f2f;font-size:11px;letter-spacing:-0.492px;">14:45:00</div><div class="a" style="left:1298.5px;top:0px;color:#2f5f2f;font-size:11px;letter-spacing:-0.492px;">14:45:30</div><div class="a" style="left:1391.5px;top:0px;color:#2f5f2f;font-size:11px;letter-spacing:-0.492px;">14:46:00</div><div class="a" style="left:1484.4px;top:0px;color:#2f5f2f;font-size:11px;letter-spacing:-0.492px;">14:46:30</div><div class="a" style="left:1577.4px;top:0px;color:#2f5f2f;font-size:11px;letter-spacing:-0.492px;">14:47:00</div><div class="a" style="left:1670.4px;top:0px;color:#2f5f2f;font-size:11px;letter-spacing:-0.492px;">14:47:30</div><div class="a" style="left:1763.3px;top:0px;color:#2f5f2f;font-size:11px;letter-spacing:-0.492px;">14:48:00</div><div class="a" style="left:1856.3px;top:0px;color:#2f5f2f;font-size:11px;letter-spacing:-0.492px;">14:48:30</div></div>
<div class="a" style="left:1761px;top:604px;width:160px;height:36px;background:#fff;border:1px solid #b2b2b2;box-shadow:2px 3px 4px rgba(0,0,0,0.32);"></div>
<div class="a" style="left:1767.50px;top:606px;font-size:12px;letter-spacing:-0.310px;color:#555;">Time: 10.11.2018 14:48:19.</div>
<div class="a" style="left:1767.50px;top:620px;font-size:12px;letter-spacing:-0.345px;color:#555;">Latency: 770 ms.</div>
<div class="a" style="left:0px;top:1023px;width:1908px;height:22px;background:#06151b;"></div>
<div class="a" style="left:194px;top:1023px;width:48px;height:22px;background:#36464c;"></div>
<svg width="1908" height="1045"><path d="M13 1036.2 L19.8 1035.2 L19.8 1042 L13 1042 Z M20.8 1035.1 L29.4 1033.9 L29.4 1042 L20.8 1042 Z M13 1043 L19.8 1043 L19.8 1046 L13 1046 Z M20.8 1043 L29.4 1043 L29.4 1046 L20.8 1046 Z" fill="#fff"/><circle cx="71.5" cy="1040.8" r="5.6" fill="none" stroke="#fff" stroke-width="1.6"/><circle cx="119.9" cy="1044.4" r="10.2" fill="#072a36" stroke="#a87b22" stroke-width="1.7"/><circle cx="122" cy="1045.5" r="6.5" fill="#167a8c"/><circle cx="124" cy="1046.5" r="4" fill="#0a4656"/><path d="M113.3 1031.4 L118.4 1031.4 L118.1 1046 L112.6 1046 Z" fill="#d9a63c" stroke="#5d3f0f" stroke-width="0.7"/><circle cx="169" cy="1043" r="11" fill="#e33b2e"/><path d="M169 1043 L158.4 1040 A11 11 0 0 0 163.5 1052.5 Z" fill="#2f9e4f"/><path d="M169 1043 L179.7 1040.6 A11 11 0 0 1 176 1052.5 Z" fill="#f7c52d"/><circle cx="169" cy="1043.2" r="6" fill="#fff"/><circle cx="169" cy="1043.2" r="4.8" fill="#4b8bf4"/><rect x="206" y="1031" width="24" height="24" rx="3" fill="#1c9ce0"/><path d="M206 1034 L214 1034 L212.5 1036.6 L206 1036.6 Z" fill="#f0502e"/><path d="M206 1036.6 L212.5 1036.6 L211 1039.2 L206 1039.2 Z" fill="#f9a01b"/><path d="M206 1039.2 L211 1039.2 L209.5 1041.8 L206 1041.8 Z" fill="#f2dc2e"/><path d="M206 1041.8 L209.5 1041.8 L208 1046 L206 1046 Z" fill="#58b947"/><ellipse cx="222.1" cy="1040.7" rx="4.8" ry="5" fill="#fff"/><g fill="#d8141c"><circle cx="1712" cy="1043" r="3"/><circle cx="1718" cy="1043.5" r="2.6"/><circle cx="1715" cy="1039.6" r="1.6"/><path d="M1713 1042 L1717 1037.6 L1718 1038.4 L1714.5 1042.6 Z"/></g><ellipse cx="1738" cy="1040.4" rx="8" ry="3.6" fill="#c99a1e"/><rect x="1730" y="1040.4" width="16" height="6" fill="#b3741a"/><path d="M1755.5 1037.5 L1769.5 1037.5 L1769.5 1046 M1755.5 1037.5 L1755.5 1041.5 L1759 1041.5 L1759 1037.5 M1757.2 1041.5 L1757.2 1046" fill="none" stroke="#fff" stroke-width="1.2"/><path d="M1779 1046 L1779 1041 L1783 1037 L1783 1046" fill="none" stroke="#fff" stroke-width="1.2"/><path d="M1786.5 1039 Q1788.5 1042 1787.5 1046 M1789.5 1037.5 Q1792.5 1041 1791.3 1046 M1792.8 1036.3 Q1796 1040.5 1794.8 1046" fill="none" stroke="#fff" stroke-width="1.1"/><rect x="1876.6" y="1035.3" width="15.6" height="12" fill="#fff"/><path d="M1879.5 1038.6 L1889.3 1038.6 M1879.5 1041.4 L1889.3 1041.4 M1879.5 1044.2 L1889.3 1044.2" fill="none" stroke="#06151b" stroke-width="1.2"/><circle cx="1893.5" cy="1046.5" r="5" fill="#4c5458"/></svg>
<div class="a" style="left:1818.00px;top:1026.5px;font-size:12px;letter-spacing:-0.300px;color:#fff;transform:scaleX(0.8940);transform-origin:0 50%;">14:48</div>
</div>
</body></html>
